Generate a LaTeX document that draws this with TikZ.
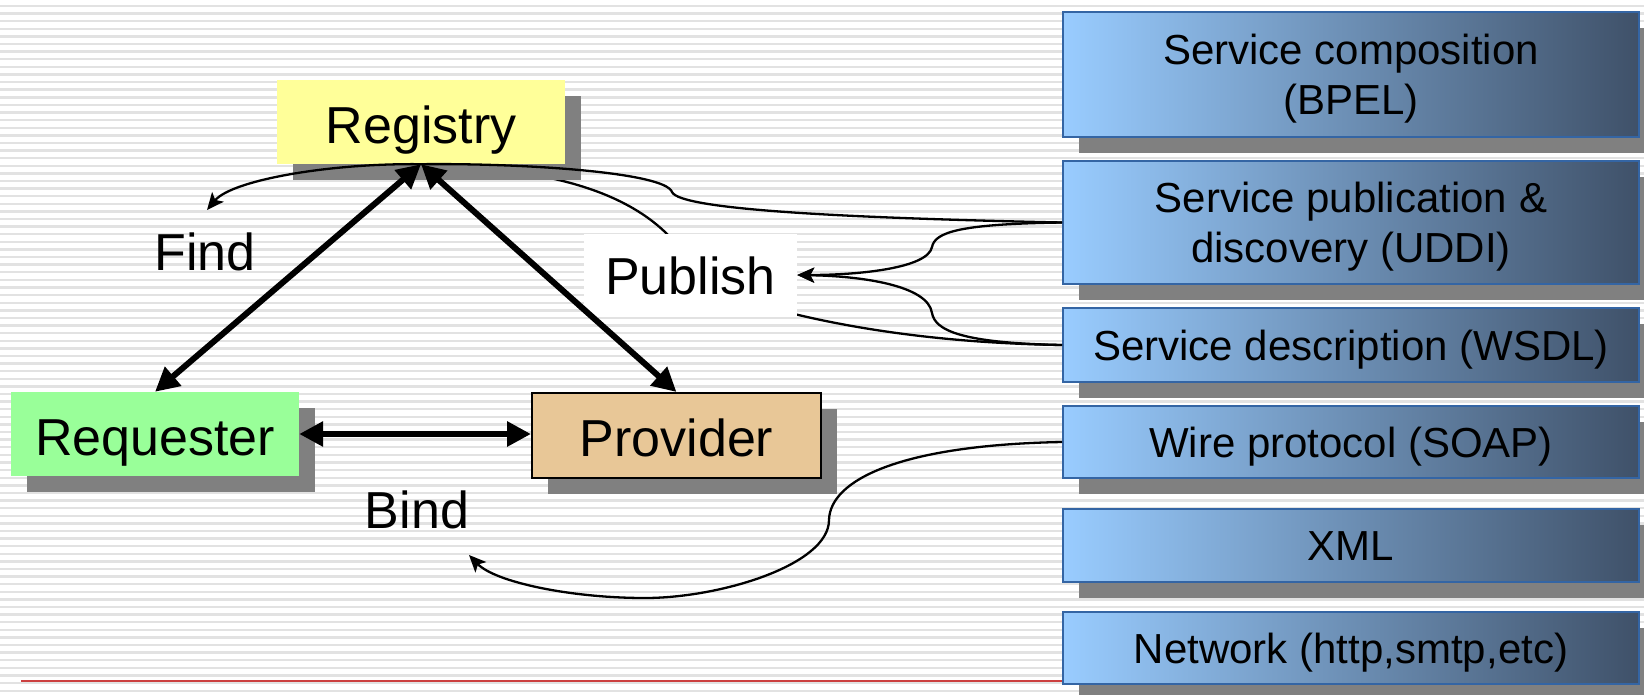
\documentclass[tikz,border=0pt]{standalone}
\usepackage{fontspec}
\setmainfont{Liberation Sans}
\usetikzlibrary{arrows.meta,shadows}
\definecolor{stripec}{HTML}{E2E2E2}
\definecolor{regyellow}{HTML}{FFFF99}
\definecolor{reqgreen}{HTML}{99FF99}
\definecolor{provtan}{HTML}{E8C797}
\definecolor{shadowgray}{HTML}{808080}
\definecolor{lightblue}{HTML}{99CCFF}
\definecolor{midblue}{HTML}{7AA0CD}
\definecolor{darkslate}{HTML}{3F5169}
\definecolor{boxborder}{HTML}{3465A4}
\definecolor{redline}{HTML}{CC4040}
\newcommand{\stacklines}[2]{\raisebox{0pt}[80pt][0pt]{\begin{tabular}[b]{@{}c@{}}#1\\#2\end{tabular}}}
\tikzset{
  shadowed/.style={drop shadow={shadow xshift=16pt,shadow yshift=-16pt,fill=shadowgray,opacity=1}},
  rolebox/.style={shadowed,inner sep=0pt,minimum width=288pt,minimum height=84pt,
    font=\fontsize{52}{60}\selectfont,text height=42pt,text depth=0pt},
  layerbox/.style={shadowed,inner sep=0pt,minimum width=576pt,draw=boxborder,line width=2pt,
    left color=lightblue,middle color=midblue,right color=darkslate,
    font=\fontsize{42}{50}\selectfont},
  oneline/.style={text height=30pt,text depth=0pt},
  lbl/.style={inner sep=0pt,font=\fontsize{52}{60}\selectfont,anchor=base},
  thickarrow/.style={line width=6pt,{Triangle[length=24pt,width=24pt]}-{Triangle[length=24pt,width=24pt]}},
  thinline/.style={line width=2.3pt},
  thinarrow/.style={line width=2.3pt,-{Stealth[length=17pt,width=15pt,inset=4pt]}},
}
\begin{document}
\begin{tikzpicture}[x=1pt,y=-1pt]
\useasboundingbox (0,0) rectangle (1644,694);
\fill[white] (0,0) rectangle (1644,694);
\foreach \i in {0,...,90} \draw[stripec,line width=2.4pt] (0,{6+7.608*\i}) -- (1644,{6+7.608*\i});
\draw[redline,line width=1.6pt] (21,681) -- (1100,681);
% protocol stack
\node[layerbox,minimum height=125pt] (comp) at (1351,74.5) {\stacklines{Service composition}{(BPEL)}};
\node[layerbox,minimum height=123pt] (uddi) at (1351,222.5) {\stacklines{Service publication \&}{discovery (UDDI)}};
\node[layerbox,oneline,minimum height=74pt] (wsdl) at (1351,345) {Service description (WSDL)};
\node[layerbox,oneline,minimum height=72pt] (soap) at (1351,442) {Wire protocol (SOAP)};
\node[layerbox,oneline,minimum height=73pt] (xml) at (1351,545.5) {XML};
\node[layerbox,oneline,minimum height=72pt] (net) at (1351,648) {Network (http,smtp,etc)};
% curve from WSDL running under the Publish label into the registry
\coordinate (regend) at (545,177);
\draw[thinline] (wsdl.west) .. controls (930,343) and (830,325) .. (760,305) .. controls (700,288) and (690,255) .. (665,232) .. controls (645,213) and (610,190) .. (regend);
% roles
\node[rolebox,fill=regyellow] (reg) at (421,122) {Registry};
\node[rolebox,fill=reqgreen] (req) at (155,434) {Requester};
\node[rolebox,fill=provtan,draw=black,line width=2pt,minimum width=289pt,minimum height=85pt] (prov) at (676.5,435.5) {Provider};
% Publish label
\node[fill=white,inner sep=0pt,minimum width=213pt,minimum height=83pt,font=\fontsize{52}{60}\selectfont,text height=39pt,text depth=0pt] (pub) at (690.5,275) {Publish};
% thick arrows
\draw[thickarrow] (reg.south) -- (req.north);
\draw[thickarrow] (reg.south) -- (prov.north);
\draw[thickarrow] (req.east) -- (req.east -| prov.west);
% Find
\node[lbl] (find) at (205,270) {Find};
\coordinate (findtip) at (207,210);
\draw[thinarrow] (uddi.west) .. controls (850,218) and (680,210) .. (672,192) .. controls (665,172) and (520,163) .. (reg.south) .. controls (330,163) and (232,180) .. (findtip);
% Publish arrows
\draw[thinarrow] (uddi.west) .. controls (960,224) and (935,232) .. (932,247) .. controls (928,268) and (860,275) .. (pub.east);
\draw[thinarrow] (wsdl.west) .. controls (960,343) and (935,330) .. (932,313) .. controls (928,285) and (860,276) .. (pub.east);
% Bind
\node[lbl] (bind) at (417,528) {Bind};
\coordinate (bindtip) at (469,555);
\draw[thinarrow] (soap.west) .. controls (900,445) and (830,480) .. (829,520) .. controls (829,565) and (720,598) .. (645,598) .. controls (570,598) and (495,582) .. (bindtip);
\end{tikzpicture}
\end{document}
